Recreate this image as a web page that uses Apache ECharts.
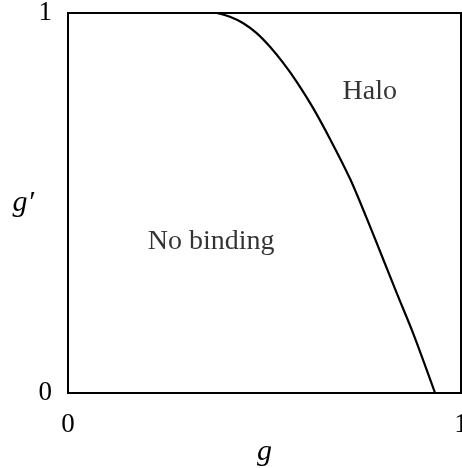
<!DOCTYPE html>
<html>
<head>
<meta charset="utf-8">
<script src="https://cdn.jsdelivr.net/npm/echarts@6/dist/echarts.min.js"></script>
<style>
  html, body { margin: 0; padding: 0; background: #fff; }
  #chart { width: 462px; height: 468px; }
</style>
</head>
<body>
<div id="chart"></div>
<script>
// boundary curve between the two regions (g, g')
var boundaryG  = [0.378, 0.412, 0.446, 0.480, 0.514, 0.548, 0.582, 0.622, 0.667, 0.718, 0.760, 0.802, 0.836, 0.879, 0.934];
var boundaryGp = [1.000, 0.990, 0.973, 0.947, 0.911, 0.868, 0.819, 0.753, 0.668, 0.563, 0.460, 0.352, 0.264, 0.155, 0.000];
// region labels: [g, g', text]
var regionLabels = [
  [0.768, 0.792, 'Halo'],
  [0.364, 0.397, 'No binding']
];
var tickValues = [0, 1];

var font = '"Liberation Serif", "Times New Roman", serif';
var chart = echarts.init(document.getElementById('chart'));

var curve = [];
for (var i = 0; i < boundaryG.length; i++) {
  curve.push([boundaryG[i], boundaryGp[i]]);
}

var option = {
  animation: false,
  grid: {
    left: 68, top: 13, width: 393, height: 380,
    outerBoundsMode: 'none', containLabel: false,
    show: true, borderColor: '#000', borderWidth: 2, backgroundColor: '#fff'
  },
  xAxis: {
    type: 'value', min: tickValues[0], max: tickValues[1], interval: 1,
    name: 'g', nameLocation: 'middle', nameGap: 44, nameMoveOverlap: false,
    nameTextStyle: { fontFamily: font, fontStyle: 'italic', fontSize: 30, color: '#000' },
    axisLine: { lineStyle: { color: '#000', width: 2 } },
    axisTick: { show: false },
    splitLine: { show: false },
    axisLabel: { fontFamily: font, fontSize: 27, color: '#000', margin: 18, showMaxLabel: true }
  },
  yAxis: {
    type: 'value', min: tickValues[0], max: tickValues[1], interval: 1,
    name: 'g\u2032', nameLocation: 'middle', nameGap: 34, nameRotate: 0, nameMoveOverlap: false,
    nameTextStyle: { fontFamily: font, fontStyle: 'italic', fontSize: 30, color: '#000', padding: [8, 0, 0, 0] },
    axisLine: { lineStyle: { color: '#000', width: 2 } },
    axisTick: { show: false },
    splitLine: { show: false },
    axisLabel: { fontFamily: font, fontSize: 27, color: '#000', margin: 16 }
  },
  series: [
    {
      type: 'line',
      data: curve,
      smooth: 0.3,
      showSymbol: false,
      lineStyle: { color: '#000', width: 2.2 }
    },
    {
      type: 'scatter',
      data: regionLabels,
      symbolSize: 0,
      silent: true,
      label: {
        show: true, position: 'inside',
        formatter: function (p) { return p.data[2]; },
        fontFamily: font, fontSize: 28, color: '#000'
      }
    }
  ]
};
chart.setOption(option);
</script>
</body>
</html>
